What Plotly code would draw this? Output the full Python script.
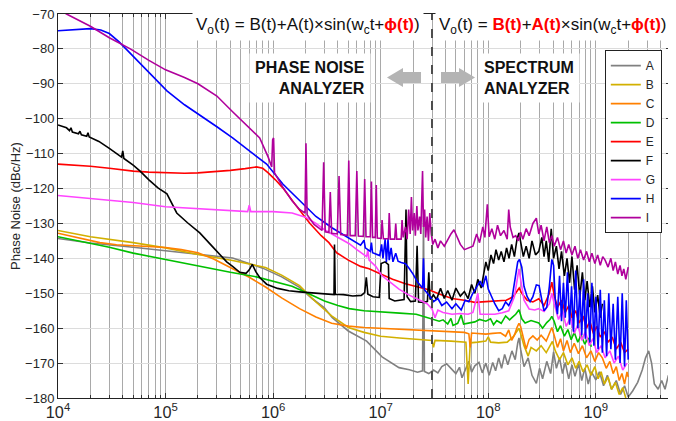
import math
import plotly.graph_objects as go

# measured phase noise traces: (offset frequency [Hz], level [dBc/Hz])
trace_A = [
    (1e4, -134.3), (2e4, -135.6), (5e4, -136.8), (1e5, -137.8), (2e5, -138.8), (4.2e5, -139.9),
    (8e5, -142.8), (1.2e6, -145.3), (1.76e6, -148.3), (2.3e6, -151.5), (3.0e6, -154.2),
    (3.55e6, -157), (5e6, -160.8), (7.4e6, -163.7), (1.03e7, -168.2), (1.25e7, -169.8),
    (1.48e7, -171.3), (1.85e7, -171.9), (2.2e7, -172.6), (2.45e7, -172.2), (2.5e7, -128),
    (2.55e7, -172.4), (2.8e7, -173), (3.1e7, -172), (3.4e7, -172.8), (3.7e7, -171),
    (4.1e7, -170.2), (4.5e7, -171.5), (5e7, -173), (5.4e7, -171.2), (5.7e7, -174.2),
    (6.1e7, -172), (6.6e7, -169.5), (7e7, -172.6), (7.5e7, -170.8), (8.2e7, -169.8),
    (8.8e7, -172.8), (9.5e7, -170), (1.02e8, -173.5), (1.1e8, -169.8), (1.17e8, -172.2),
    (1.25e8, -168.5), (1.33e8, -171.5), (1.42e8, -167.5), (1.52e8, -170.5), (1.66e8, -166.5),
    (1.78e8, -169), (1.88e8, -164.2), (1.93e8, -162.8), (2.0e8, -166), (2.15e8, -171),
    (2.35e8, -168.5), (2.55e8, -173.5), (2.8e8, -175.8), (3.0e8, -171.5), (3.2e8, -174.5),
    (3.5e8, -169.5), (3.8e8, -173), (4.05e8, -166.8), (4.3e8, -171.5), (4.6e8, -168.5),
    (4.9e8, -173), (5.2e8, -169.8), (5.6e8, -174.5), (6e8, -170.5), (6.4e8, -173.8),
    (6.9e8, -170.2), (7.4e8, -175), (7.9e8, -171.5), (8.5e8, -176), (9.1e8, -172.5),
    (1.0e9, -174.8), (1.08e9, -172.5), (1.18e9, -176.5), (1.28e9, -173.5), (1.4e9, -177.5),
    (1.55e9, -175), (1.7e9, -179), (1.85e9, -176.5), (2.0e9, -179.7), (2.2e9, -178),
    (2.45e9, -175.5), (2.7e9, -172), (2.9e9, -168.5), (3.1e9, -166.5), (3.3e9, -170),
    (3.5e9, -176), (3.8e9, -177.5), (4.1e9, -175), (4.4e9, -177.5), (4.7e9, -173.8), (5e9, -174.5),
]

trace_B = [
    (1e4, -132), (2e4, -133.8), (5e4, -135.5), (1e5, -137), (2e5, -138.9), (4.2e5, -140.6),
    (8.5e5, -142.6), (1.2e6, -144.8), (1.76e6, -147.8), (2.5e6, -152.5), (3.5e6, -156.5),
    (5e6, -159.8), (7e6, -161.2), (1e7, -162.3), (1.5e7, -162.8), (2.2e7, -163.2), (3e7, -163.5),
    (3.1e7, -165.5), (3.2e7, -163.5), (4.5e7, -163.7), (6.2e7, -164), (6.5e7, -176),
    (6.8e7, -164.2), (8e7, -164), (9.5e7, -163.7), (1.0e8, -162.5), (1.05e8, -164),
    (1.25e8, -164.2), (1.5e8, -164), (1.7e8, -162.5), (1.85e8, -160.8), (1.93e8, -160),
    (2.0e8, -161.5), (2.15e8, -165), (2.35e8, -168), (2.5e8, -165.5), (2.8e8, -166.5),
    (3.1e8, -165), (3.46e8, -167), (3.7e8, -165.5), (3.95e8, -163.8), (4.2e8, -166.5),
    (4.6e8, -169), (5e8, -167), (5.5e8, -170.5), (6e8, -168.5), (6.5e8, -171.5), (7e8, -169.5),
    (7.6e8, -172.5), (8.3e8, -170.5), (9e8, -173.5), (9.8e8, -171), (1.05e9, -174.5),
    (1.12e9, -172.5), (1.2e9, -176), (1.3e9, -174), (1.4e9, -177.5), (1.52e9, -175.5),
    (1.65e9, -179), (1.78e9, -177), (1.9e9, -180),
]

trace_C = [
    (1e4, -132.8), (1.5e4, -134), (2.45e4, -135.5), (3.5e4, -136.1), (5e4, -136.4), (7e4, -136.7),
    (1e5, -136.9), (1.4e5, -137.5), (2e5, -138.4), (2.8e5, -140.2), (4e5, -142.6), (6e5, -145.4),
    (8.5e5, -148.2), (1.2e6, -151.3), (1.76e6, -154.4), (2.5e6, -156.8), (3.5e6, -158.6),
    (5e6, -159.4), (7e6, -159.8), (1e7, -160), (1.5e7, -160.3), (2e7, -160.5), (3e7, -160.7),
    (4.5e7, -160.9), (6e7, -161.2), (6.6e7, -161.6), (6.8e7, -165.5), (7.0e7, -161.4),
    (8e7, -161.6), (9.5e7, -161.7), (1.1e8, -161.5), (1.3e8, -161.3), (1.45e8, -162.3),
    (1.55e8, -160.5), (1.65e8, -163.5), (1.75e8, -162), (1.85e8, -159.8), (1.93e8, -158.6),
    (2.0e8, -159.5), (2.1e8, -162.5), (2.25e8, -166), (2.4e8, -163.2), (2.6e8, -162.2),
    (2.85e8, -163.4), (3.1e8, -162), (3.46e8, -163.7), (3.7e8, -161.5), (3.9e8, -159.8),
    (4.1e8, -162), (4.4e8, -165.5), (4.7e8, -163), (5e8, -166.5), (5.4e8, -163.5), (5.8e8, -167),
    (6.3e8, -164.3), (6.9e8, -167.3), (7.5e8, -165), (8.2e8, -168.5), (9e8, -166.5),
    (9.8e8, -169.5), (1.06e9, -167), (1.15e9, -168.5), (1.25e9, -171.5), (1.35e9, -169.5),
    (1.45e9, -173), (1.55e9, -171), (1.65e9, -175), (1.75e9, -173), (1.85e9, -176),
    (1.95e9, -172.5), (2.0e9, -174),
]

trace_D = [
    (1e4, -133.8), (2e4, -135.6), (3e4, -136.8), (5e4, -138.5), (1e5, -140.3), (2e5, -142.3),
    (4e5, -144), (7e5, -145.3), (1e6, -146.5), (1.5e6, -148), (2.2e6, -150.3), (3e6, -152.2),
    (4e6, -153.5), (5.1e6, -154.4), (7e6, -155), (1e7, -155.4), (1.5e7, -155.7), (2.14e7, -156),
    (2.8e7, -157), (3.2e7, -157.6), (3.5e7, -158), (3.8e7, -157.6), (4.2e7, -158.8),
    (4.5e7, -157.2), (4.7e7, -159.2), (5.2e7, -158.6), (5.6e7, -156.2), (5.9e7, -158.8),
    (6.6e7, -158.6), (7.5e7, -158.2), (8.3e7, -157.5), (9.5e7, -158), (1.05e8, -157.3),
    (1.12e8, -159), (1.2e8, -157.8), (1.32e8, -158.6), (1.45e8, -156.5), (1.58e8, -157.6),
    (1.66e8, -157), (1.8e8, -156), (1.93e8, -154.7), (2.05e8, -157.3), (2.2e8, -158.5),
    (2.5e8, -157.8), (2.95e8, -158.5), (3.2e8, -160), (3.5e8, -158.4), (3.75e8, -157.5),
    (3.9e8, -156.6), (4.1e8, -158), (4.4e8, -161), (4.7e8, -159.3), (5.1e8, -162.3),
    (5.5e8, -160.4), (5.9e8, -163.3), (6.3e8, -161.2), (6.8e8, -164), (7.3e8, -162),
    (7.9e8, -164.6), (8.5e8, -162.8), (9.1e8, -165.3),
]

trace_E = [
    (1e4, -113), (1.5e4, -113.3), (2e4, -113.6), (3e4, -114.2), (5e4, -115), (7e4, -115.3),
    (1e5, -115.5), (1.5e5, -115.6), (2e5, -115.5), (3e5, -115.2), (4e5, -114.8), (5.5e5, -114.3),
    (7e5, -113.8), (8e5, -114.2), (9e5, -115.5), (1.05e6, -117.5), (1.23e6, -119.8),
    (1.6e6, -124.5), (2.2e6, -130), (2.8e6, -133.5), (3.3e6, -135.5), (3.9e6, -138.4),
    (5e6, -140.5), (6.5e6, -142.3), (7.8e6, -143), (1e7, -144.5), (1.29e7, -146), (1.7e7, -147.3),
    (2.3e7, -148.2), (2.8e7, -149), (3.5e7, -150.2), (4.6e7, -151.5), (6e7, -152), (7.5e7, -152.6),
    (9.5e7, -152.4), (1.2e8, -152.2), (1.47e8, -152), (1.7e8, -151), (1.85e8, -149.5),
    (1.94e8, -148.5), (2.05e8, -150), (2.3e8, -152), (2.6e8, -152.5), (2.95e8, -151.6),
    (3.3e8, -153.5), (3.7e8, -150), (3.9e8, -146.8), (4.1e8, -150.5), (4.4e8, -154), (4.8e8, -152),
    (5.2e8, -155.5), (5.6e8, -153.5), (6e8, -157), (6.5e8, -155), (7e8, -158.5), (7.6e8, -156.5),
    (8.2e8, -160), (8.8e8, -158), (9.5e8, -161.5), (1.02e9, -159.5), (1.1e9, -162.5),
    (1.2e9, -161), (1.3e9, -164), (1.42e9, -162.5), (1.55e9, -166), (1.7e9, -164),
    (1.85e9, -167), (2.0e9, -166),
]

trace_F = [
    (1e4, -101.8), (1.2e4, -102.6), (1.28e4, -103.4), (1.32e4, -102.6), (1.36e4, -103.8),
    (1.55e4, -104.3), (1.6e4, -103.6), (1.65e4, -104.6), (1.85e4, -105), (1.9e4, -104.0),
    (1.95e4, -105.2), (2.4e4, -106.5), (3e4, -108.5), (3.6e4, -110.3), (3.9e4, -111),
    (4.0e4, -109.2), (4.1e4, -111.4), (5e4, -113.3), (5.8e4, -115), (7e4, -117.5),
    (8.5e4, -119.8), (1.03e5, -121.5), (1.27e5, -127), (1.6e5, -129.8), (2.08e5, -132.7),
    (2.8e5, -137), (3.7e5, -141), (4.2e5, -142.3), (4.9e5, -144), (5.6e5, -144.3),
    (6.0e5, -143.3), (6.4e5, -141.7), (6.9e5, -143.8), (7.5e5, -145.5), (8.7e5, -147.4),
    (1.1e6, -148.6), (1.4e6, -149.3), (1.76e6, -149.6), (2.5e6, -150), (3.55e6, -150.2),
    (3.68e6, -150.4), (3.72e6, -136), (3.78e6, -150.3), (4.5e6, -150.4), (5.5e6, -150.8),
    (6.6e6, -150.6), (7.1e6, -149.8), (7.35e6, -145.4), (7.6e6, -150.3), (8.5e6, -151),
    (9.7e6, -151.2), (1.01e7, -141.5), (1.1e7, -141), (1.18e7, -141.8), (1.2e7, -151.5),
    (1.35e7, -152.2), (1.5e7, -152), (1.65e7, -151.8), (1.72e7, -126), (1.76e7, -151),
    (1.9e7, -152.4), (2.1e7, -152.2), (2.18e7, -136.4), (2.25e7, -152.5), (2.55e7, -152.6),
    (2.72e7, -152.3), (2.8e7, -144), (2.88e7, -151.8), (3.1e7, -150.5), (3.3e7, -151.8),
    (3.6e7, -148.6), (3.9e7, -151.5), (4.2e7, -149.2), (4.6e7, -152), (5e7, -148.5),
    (5.5e7, -150.8), (6e7, -149.5), (6.5e7, -151.5), (7e7, -147.5), (7.5e7, -150), (8e7, -146),
    (8.6e7, -148.5), (9.5e7, -141), (1.0e8, -143.5), (1.06e8, -139), (1.12e8, -141.5),
    (1.18e8, -137.5), (1.25e8, -140.5), (1.32e8, -138), (1.4e8, -141), (1.48e8, -137),
    (1.56e8, -140), (1.65e8, -136), (1.75e8, -139.5), (1.85e8, -134.5), (1.93e8, -132.7),
    (2.02e8, -136), (2.12e8, -139.5), (2.25e8, -136.5), (2.4e8, -140), (2.55e8, -135),
    (2.75e8, -139), (2.95e8, -138), (3.15e8, -134), (3.3e8, -139.5), (3.46e8, -135),
    (3.65e8, -141), (3.85e8, -131.5), (4.05e8, -140), (4.3e8, -136.5), (4.55e8, -143),
    (4.8e8, -138), (5.1e8, -145), (5.4e8, -140), (5.7e8, -147), (6e8, -139.5), (6.35e8, -149),
    (6.7e8, -142), (7.1e8, -151), (7.5e8, -144), (7.9e8, -152), (8.3e8, -146.5), (8.8e8, -154),
    (9.3e8, -148), (9.8e8, -155.5), (1.04e9, -150.5), (1.1e9, -157), (1.15e9, -153),
]

trace_G = [
    (1e4, -122), (2e4, -122.8), (5e4, -124), (1e5, -125.2), (2e5, -125.8), (4e5, -126.3),
    (5.8e5, -126.6), (6.0e5, -124.8), (6.2e5, -126.6), (1e6, -126.6), (1.5e6, -127),
    (2e6, -128.2), (2.5e6, -130), (3e6, -131.8), (4e6, -134), (5.1e6, -135.8), (6e6, -137.5),
    (7.4e6, -139.5), (7.6e6, -137.5), (7.8e6, -140.5), (9e6, -142.3), (1.03e7, -145),
    (1.25e7, -147), (1.48e7, -148.8), (1.8e7, -150.4), (2.3e7, -151.9), (2.7e7, -153),
    (3.0e7, -154.5), (3.2e7, -157), (3.4e7, -154.8), (3.8e7, -155.5), (4.6e7, -156),
    (5.5e7, -155.8), (6.5e7, -156), (7.2e7, -155.5), (8.0e7, -150), (8.4e7, -156), (9.5e7, -156),
    (1.15e8, -156), (1.35e8, -155.6), (1.55e8, -155), (1.75e8, -151), (1.88e8, -145.5),
    (1.93e8, -143), (2.0e8, -146), (2.15e8, -152), (2.4e8, -154.5), (2.7e8, -154.8),
    (2.95e8, -154.4), (3.3e8, -155.2), (3.7e8, -153), (3.9e8, -150), (4.1e8, -153),
    (4.5e8, -157.5), (4.9e8, -155), (5.3e8, -159.5), (5.8e8, -157), (6.3e8, -161.5), (6.8e8, -159),
    (7.4e8, -163.5), (8e8, -161), (8.7e8, -165), (9.4e8, -163), (1.02e9, -167), (1.12e9, -165),
    (1.22e9, -168.5), (1.35e9, -166.5), (1.48e9, -170), (1.62e9, -168), (1.78e9, -172),
    (1.95e9, -170),
]

trace_H = [
    (1e4, -74.8), (1.3e4, -74.6), (1.7e4, -74.3), (2e4, -74.2), (2.5e4, -74.6), (3e4, -75.6),
    (3.7e4, -78), (4.66e4, -81.2), (6e4, -84.5), (8e4, -88.5), (1.03e5, -92), (1.5e5, -96),
    (2.1e5, -99), (3e5, -102.3), (4.2e5, -105.5), (6e5, -109.3), (8.7e5, -113), (1.23e6, -118.7),
    (1.76e6, -123.5), (2.5e6, -128), (3.55e6, -131.3), (5e6, -134), (6.5e6, -136.2),
    (7.0e6, -134.8), (7.2e6, -137), (8.0e6, -138), (8.2e6, -135.5), (8.4e6, -138.4),
    (9.8e6, -139.2), (1.02e7, -136), (1.05e7, -140), (1.1e7, -134.5), (1.13e7, -141),
    (1.17e7, -134.5), (1.2e7, -140.5), (1.25e7, -137), (1.3e7, -141), (1.38e7, -138.5),
    (1.45e7, -140.8), (1.55e7, -141.2), (1.7e7, -141.5), (1.85e7, -143), (2.0e7, -144.5),
    (2.2e7, -146.8), (2.45e7, -148.5), (2.5e7, -140), (2.55e7, -149), (2.8e7, -150.5),
    (3.1e7, -152.4), (3.4e7, -151.5), (3.7e7, -153.5), (4.1e7, -152.5), (4.6e7, -154.4),
    (5e7, -153), (5.6e7, -154.8), (6.1e7, -152), (6.6e7, -152.4), (7.2e7, -150), (7.8e7, -148),
    (8.4e7, -146.5), (8.9e7, -148.2), (9.5e7, -145), (1.0e8, -148.8), (1.07e8, -151),
    (1.15e8, -153), (1.25e8, -155), (1.35e8, -154.4), (1.45e8, -152.5), (1.55e8, -153.5),
    (1.66e8, -151.6), (1.78e8, -145), (1.88e8, -141), (1.95e8, -140.3), (2.05e8, -142.5),
    (2.15e8, -148), (2.3e8, -151), (2.45e8, -152.4), (2.6e8, -151), (2.8e8, -147.6),
    (2.97e8, -147.8), (3.15e8, -152), (3.3e8, -155), (3.5e8, -154), (3.7e8, -148),
    (3.9e8, -140.3), (4.05e8, -142), (4.2e8, -152), (4.4e8, -156), (4.6e8, -145), (4.8e8, -158),
    (5.0e8, -147), (5.2e8, -157), (5.45e8, -144), (5.7e8, -159), (5.95e8, -148), (6.2e8, -161),
    (6.5e8, -143.5), (6.8e8, -160), (7.1e8, -149), (7.4e8, -162), (7.7e8, -146), (8.0e8, -163),
    (8.4e8, -150), (8.8e8, -164), (9.2e8, -147), (9.6e8, -165), (1.0e9, -151), (1.05e9, -166),
    (1.1e9, -149), (1.15e9, -167), (1.2e9, -152), (1.26e9, -168), (1.32e9, -150), (1.38e9, -166),
    (1.45e9, -153), (1.52e9, -169), (1.6e9, -151), (1.68e9, -170), (1.76e9, -150),
    (1.85e9, -171), (1.92e9, -152), (2.0e9, -169),
]

trace_I = [
    (1e4, -68.5), (1.2e4, -70), (2e4, -73.5), (3e4, -76.8), (4.7e4, -80), (7e4, -83.3),
    (1e5, -86), (1.5e5, -88.2), (2e5, -90), (3e5, -93.5), (4.2e5, -98), (6e5, -102.5),
    (7.5e5, -105.5), (9e5, -111), (9.7e5, -113.8), (9.9e5, -106), (1.01e6, -105.5),
    (1.03e6, -115.5), (1.1e6, -117), (1.23e6, -119.6), (1.5e6, -123.5), (1.76e6, -126),
    (1.98e6, -127), (2.02e6, -107), (2.07e6, -127.5), (2.4e6, -130.3), (2.85e6, -132),
    (2.95e6, -112.5), (3.05e6, -132.4), (3.3e6, -132.6), (3.4e6, -121), (3.5e6, -132.8),
    (3.95e6, -133), (4.1e6, -116.4), (4.25e6, -133.2), (4.9e6, -133.4), (5.05e6, -112),
    (5.2e6, -133.5), (5.8e6, -133.5), (6.0e6, -115), (6.2e6, -133.6), (6.9e6, -133.7),
    (7.1e6, -117.3), (7.3e6, -133.8), (8.0e6, -133.8), (8.2e6, -118), (8.4e6, -134),
    (8.9e6, -134), (9.1e6, -119), (9.3e6, -134.2), (1.01e7, -134.3), (1.03e7, -129),
    (1.06e7, -134.4), (1.18e7, -134.4), (1.2e7, -127), (1.23e7, -134.5), (1.35e7, -134.5),
    (1.38e7, -130), (1.41e7, -134.5), (1.55e7, -134.5), (1.58e7, -129), (1.62e7, -134),
    (1.7e7, -131), (1.76e7, -134.5), (1.82e7, -126), (1.88e7, -133), (1.93e7, -122.4),
    (1.98e7, -132), (2.05e7, -127), (2.1e7, -133.5), (2.17e7, -125), (2.22e7, -132),
    (2.3e7, -128), (2.36e7, -133), (2.45e7, -115), (2.5e7, -131), (2.56e7, -126), (2.62e7, -134),
    (2.7e7, -128), (2.78e7, -135), (2.86e7, -127), (2.95e7, -133), (3.05e7, -136),
    (3.2e7, -134.5), (3.4e7, -137), (3.6e7, -135), (3.9e7, -136.5), (4.2e7, -134.5),
    (4.5e7, -133), (4.8e7, -131.8), (5.1e7, -133.5), (5.5e7, -136), (6e7, -137.5), (6.6e7, -137),
    (7.2e7, -136.5), (7.8e7, -133), (8.3e7, -135.5), (8.9e7, -131), (9.3e7, -134),
    (9.8e7, -124.5), (1.02e8, -133.8), (1.08e8, -131.5), (1.15e8, -134.5), (1.22e8, -130.5),
    (1.3e8, -133.5), (1.4e8, -132), (1.5e8, -134.5), (1.55e8, -126), (1.6e8, -131),
    (1.7e8, -134), (1.8e8, -133.5), (1.9e8, -135), (2.0e8, -132.5), (2.1e8, -134.5),
    (2.25e8, -131.5), (2.4e8, -133.5), (2.6e8, -130), (2.8e8, -128.5), (2.95e8, -133),
    (3.1e8, -130.5), (3.3e8, -135), (3.5e8, -131), (3.7e8, -135.5), (3.9e8, -133.5),
    (4.1e8, -136.5), (4.4e8, -134), (4.7e8, -137.5), (5e8, -135), (5.3e8, -138.5), (5.6e8, -136),
    (6e8, -139), (6.4e8, -136.5), (6.8e8, -140), (7.2e8, -137.5), (7.7e8, -140.5), (8.2e8, -138),
    (8.7e8, -141), (9.2e8, -138.5), (9.8e8, -141.5), (1.04e9, -139), (1.1e9, -142),
    (1.16e9, -139.5), (1.22e9, -140.5), (1.3e9, -142.5), (1.38e9, -140), (1.45e9, -143.5),
    (1.52e9, -141), (1.6e9, -144.5), (1.68e9, -142), (1.75e9, -145), (1.82e9, -143),
    (1.9e9, -146), (1.95e9, -144.5), (2.0e9, -142.5),
]

series_names = ["A", "B", "C", "D", "E", "F", "G", "H", "I"]
series_data = [trace_A, trace_B, trace_C, trace_D, trace_E, trace_F, trace_G, trace_H, trace_I]
series_colors = ["#808080", "#d2b000", "#ff8000", "#00c000", "#ff0000",
                 "#000000", "#ff44ff", "#0000ff", "#b0009c"]

analyzer_split = 3e7  # phase noise analyzer / spectrum analyzer boundary
y_ticks = [-70, -80, -90, -100, -110, -120, -130, -140, -150, -160, -170, -180]

fig = go.Figure()
for name, pts, col in zip(series_names, series_data, series_colors):
    f, lvl = zip(*pts)
    fig.add_trace(go.Scatter(x=list(f), y=list(lvl), mode="lines", name=name,
                             line=dict(color=col, width=1.6)))

font = "Liberation Sans, Arial, sans-serif"

# the page body adds an 8px offset, margins compensate for it
fig.update_layout(
    width=676, height=421,
    margin=dict(l=50, r=13, t=6, b=31),
    paper_bgcolor="white", plot_bgcolor="white",
    font=dict(family=font, size=13, color="#262626"),
    showlegend=True,
    legend=dict(x=0.985, y=0.906, xanchor="right", yanchor="top",
                bgcolor="white", bordercolor="#222", borderwidth=1,
                font=dict(size=12, color="#262626"), itemwidth=30,
                tracegroupgap=0),
)

fig.update_xaxes(
    type="log", range=[4, math.log10(5e9)], dtick=1, exponentformat="power",
    showgrid=True, gridcolor="#a9a9a9", gridwidth=1,
    minor=dict(dtick="D1", showgrid=True, gridcolor="#a9a9a9", gridwidth=1,
               ticks="inside", ticklen=3, tickcolor="#333"),
    ticks="inside", ticklen=5, tickcolor="#333",
    showline=True, linecolor="#222", linewidth=1, mirror="allticks",
    tickfont=dict(size=13), zeroline=False, automargin=False,
)
fig.update_yaxes(
    range=[-180, -70], tickvals=y_ticks,
    showgrid=True, gridcolor="#dcdcdc", gridwidth=1,
    ticks="inside", ticklen=5, tickcolor="#333",
    showline=True, linecolor="#222", linewidth=1, mirror="allticks",
    tickfont=dict(size=13), zeroline=False, automargin=False,
    ticklabeloverflow="allow",
    title=dict(text="Phase Noise (dBc/Hz)", font=dict(size=13), standoff=6),
)

# boundary between the two instruments
fig.add_shape(type="line", xref="x", yref="paper", x0=analyzer_split, x1=analyzer_split,
              y0=0, y1=1, line=dict(color="#4d4d4d", width=2, dash="dash"), layer="above")

red = "<span style='color:#ff0000'><b>%s</b></span>"
phi = red % "ϕ(t)"
eq_left = "V<sub>o</sub>(t) = B(t)+A(t)×sin(w<sub>c</sub>t+" + phi + ")"
eq_right = ("V<sub>o</sub>(t) = " + red % "B(t)" + "+" + red % "A(t)"
            + "×sin(w<sub>c</sub>t+" + phi + ")")

fig.add_annotation(x=0.408, y=0.969, xref="paper", yref="paper", text=eq_left,
                   xanchor="center", yanchor="middle",
                   showarrow=False, bgcolor="white", borderpad=3,
                   font=dict(size=17, color="#111"))
fig.add_annotation(x=0.806, y=0.969, xref="paper", yref="paper", text=eq_right,
                   xanchor="center", yanchor="middle",
                   showarrow=False, bgcolor="white", borderpad=3,
                   font=dict(size=17, color="#111"))
fig.add_annotation(x=0.411, y=0.833, xref="paper", yref="paper",
                   text="<b>PHASE NOISE</b><br><b>ANALYZER</b>",
                   xanchor="center", yanchor="middle",
                   showarrow=False, bgcolor="white", borderpad=5, align="right",
                   font=dict(size=16, color="#111"))
fig.add_annotation(x=0.768, y=0.833, xref="paper", yref="paper",
                   text="<b>SPECTRUM</b><br><b>ANALYZER</b>",
                   xanchor="center", yanchor="middle",
                   showarrow=False, bgcolor="white", borderpad=5, align="left",
                   font=dict(size=16, color="#111"))

# block arrows pointing away from the boundary
arrow_gray = "#b4b4b4"
fig.add_shape(type="path", xref="paper", yref="paper", line=dict(width=0),
              fillcolor=arrow_gray,
              path="M 0.5367 0.8346 L 0.5628 0.8593 L 0.5628 0.8489 L 0.5922 0.8489 "
                   "L 0.5922 0.8203 L 0.5628 0.8203 L 0.5628 0.8099 Z")
fig.add_shape(type="path", xref="paper", yref="paper", line=dict(width=0),
              fillcolor=arrow_gray,
              path="M 0.6803 0.8346 L 0.6542 0.8593 L 0.6542 0.8489 L 0.6248 0.8489 "
                   "L 0.6248 0.8203 L 0.6542 0.8203 L 0.6542 0.8099 Z")

fig.write_html("out.html")
